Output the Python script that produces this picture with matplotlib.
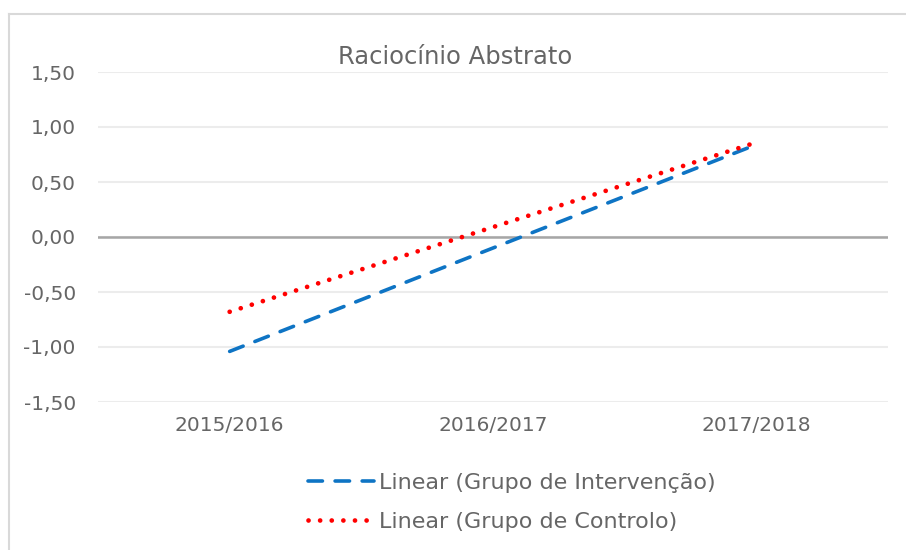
import matplotlib
matplotlib.use("Agg")
import matplotlib.pyplot as plt
from matplotlib.lines import Line2D

categories = ["2015/2016", "2016/2017", "2017/2018"]
intervencao = [-1.04, -0.10, 0.84]
controlo = [-0.68, 0.09, 0.86]
y_ticks = [-1.5, -1.0, -0.5, 0.0, 0.5, 1.0, 1.5]
y_labels = ["-1,50", "-1,00", "-0,50", "0,00", "0,50", "1,00", "1,50"]
title = "Raciocínio Abstrato"
labels = ["Linear (Grupo de Intervenção)", "Linear (Grupo de Controlo)"]

W, H = 906, 550
fig = plt.figure(figsize=(W / 100, H / 100), dpi=100)
plt.rcParams['font.family'] = ['DejaVu Sans']
txt = "#666666"

# outer chart border (top and left edges visible)
fig.add_artist(Line2D([9 / W, 1.0], [(H - 14) / H] * 2, transform=fig.transFigure,
                      color="#d9d9d9", linewidth=1.5))
fig.add_artist(Line2D([9 / W] * 2, [0.0, (H - 14) / H], transform=fig.transFigure,
                      color="#d9d9d9", linewidth=1.5))

x0, x1, ytop, ybot = 98, 888, 72, 402
ax = fig.add_axes([x0 / W, (H - ybot) / H, (x1 - x0) / W, (ybot - ytop) / H])
ax.set_xlim(-0.5, 2.5)
ax.set_ylim(-1.5, 1.5)
for s in ax.spines.values():
    s.set_visible(False)
ax.set_yticks(y_ticks)
ax.set_yticklabels(y_labels)
ax.set_xticks(range(len(categories)))
ax.set_xticklabels(categories)
ax.tick_params(axis='y', length=0, pad=16, labelsize=14.5, labelcolor=txt)
ax.tick_params(axis='x', length=0, pad=10, labelsize=14.5, labelcolor=txt)
ax.grid(axis='y', color="#ececec", linewidth=1.5)
ax.set_axisbelow(True)
ax.axhline(0, color="#a6a6a6", linewidth=1.8, zorder=1)

xs = list(range(len(categories)))
ax.plot(xs, intervencao, color="#0E74C4", linewidth=2.6, linestyle=(0, (4, 3.5)),
        dash_capstyle='round', zorder=3)
ax.plot(xs, controlo, color="#FF0000", linewidth=3.4, linestyle=(0, (0.01, 2.45)),
        dash_capstyle='round', solid_capstyle='round', zorder=3)

fig.text(455 / W, (H - 57) / H, title, ha='center', va='center', fontsize=17.5, color=txt)

h1 = Line2D([0], [0], color="#0E74C4", linewidth=2.6, linestyle=(0, (4, 3.5)), dash_capstyle='round')
h2 = Line2D([0], [0], color="#FF0000", linewidth=3.4, linestyle=(0, (0.01, 2.45)), dash_capstyle='round')
leg = fig.legend([h1, h2], labels, loc='upper left', bbox_to_anchor=(308 / W, (H - 473) / H),
                 frameon=False, fontsize=16, handlelength=2.95, handletextpad=0.25,
                 labelspacing=0.85, borderaxespad=0, borderpad=0)
for t in leg.get_texts():
    t.set_color(txt)

fig.savefig("out.png", dpi=100)
